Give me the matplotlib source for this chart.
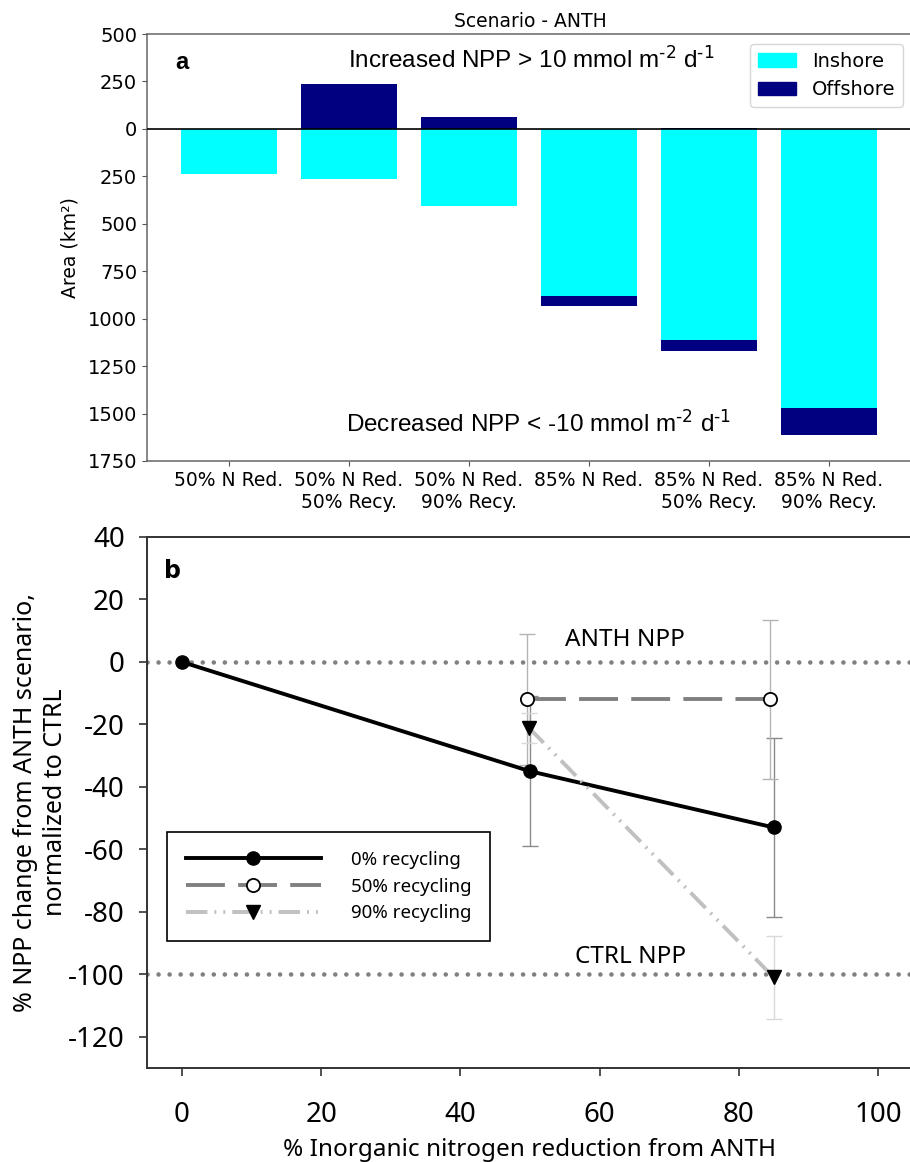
import numpy as np
import matplotlib
matplotlib.use("Agg")
import matplotlib.pyplot as plt
from matplotlib.patches import Patch
from matplotlib.ticker import FuncFormatter

plt.rcParams['axes.unicode_minus'] = False
plt.rcParams['mathtext.default'] = 'regular'

# panel a: area (km2) with NPP change beyond +/-10 mmol m-2 d-1
scenarios = ['50% N Red.', '50% N Red.\n50% Recy.', '50% N Red.\n90% Recy.',
             '85% N Red.', '85% N Red.\n50% Recy.', '85% N Red.\n90% Recy.']
offshore_inc = [0, 237, 63, 0, 5, 0]
inshore_dec = [240, 263, 405, 882, 1115, 1473]
offshore_dec = [0, 0, 0, 53, 55, 140]

# panel b: % NPP change vs N reduction
n_red = [0, 50, 85]
rec0 = [0, -35, -53]
rec0_err = [0, 24, 28.6]
n_red50 = [49.5, 84.4]
rec50 = [-12, -12]
rec50_err = [21, 25.4]
n_red90 = [49.8, 85]
rec90 = [-21, -101]
rec90_err = [4.8, 13.3]

INSHORE = '#00ffff'
OFFSHORE = '#000080'

fig = plt.figure(figsize=(9.1, 11.62), dpi=100)

# ---------------- panel a ----------------
ax1 = fig.add_axes([0.1615, 0.6033, 0.8418, 0.3674])
x = np.arange(len(scenarios))
neg_in = -np.array(inshore_dec)
ax1.bar(x, offshore_inc, width=0.8, color=OFFSHORE, zorder=2)
ax1.bar(x, neg_in, width=0.8, color=INSHORE, zorder=2)
ax1.bar(x, -np.array(offshore_dec), bottom=neg_in, width=0.8, color=OFFSHORE, zorder=2)
ax1.axhline(0, color='black', lw=1.2, zorder=3)

ax1.set_xlim(-0.683, 5.7)
ax1.set_ylim(-1750, 500)
ax1.set_yticks(np.arange(-1750, 501, 250))
ax1.yaxis.set_major_formatter(FuncFormatter(lambda v, p: '%d' % abs(v)))
ax1.set_xticks(x)
ax1.set_xticklabels(scenarios, fontsize=13.5)
ax1.tick_params(axis='y', labelsize=14)
ax1.tick_params(colors='#555555', labelcolor='black')
for s in ax1.spines.values():
    s.set_color('#666666')
    s.set_linewidth(1.1)
ax1.set_ylabel('Area (km²)', fontsize=13.5, labelpad=6)
ax1.set_title('Scenario - ANTH', fontsize=13.5, pad=5)

ax1.text(-0.45, 350, 'a', fontsize=17, fontweight='bold',
         family='Liberation Sans', va='center')
ax1.text(2.52, 365, r'Increased NPP > 10 mmol m$^{\text{-2}}$ d$^{\text{-1}}$',
         fontsize=17.5, family='Liberation Sans', ha='center', va='center')
ax1.text(2.58, -1550, r'Decreased NPP < -10 mmol m$^{\text{-2}}$ d$^{\text{-1}}$',
         fontsize=17.5, family='Liberation Sans', ha='center', va='center')

ax1.legend(handles=[Patch(color=INSHORE, label='Inshore'),
                    Patch(color=OFFSHORE, label='Offshore')],
           loc='upper right', fontsize=14)

# ---------------- panel b ----------------
FONT_B = 'Noto Sans'
ax2 = fig.add_axes([0.1615, 0.0809, 0.8418, 0.4570])
for ref in (0, -100):
    ax2.axhline(ref, color='#808080', lw=3.3, ls=(0, (0.01, 2.4)),
                dash_capstyle='round', zorder=1)

ax2.errorbar(n_red[1:], rec0[1:], yerr=rec0_err[1:], fmt='none', ecolor='#8a8a8a',
             elinewidth=1, capsize=6, capthick=1, zorder=2)
ax2.errorbar(n_red50, rec50, yerr=rec50_err, fmt='none', ecolor='#b4b4b4',
             elinewidth=1, capsize=6, capthick=1, zorder=2)
ax2.errorbar(n_red90, rec90, yerr=rec90_err, fmt='none', ecolor='#d9d9d9',
             elinewidth=1, capsize=6, capthick=1, zorder=2)

ax2.plot(n_red, rec0, color='black', lw=2.8, marker='o', ms=9.5,
         label='0% recycling', zorder=4)
ax2.plot(n_red50, rec50, color='#808080', lw=2.8, ls=(0, (10, 3.4)), marker='o', ms=9.5,
         mfc='white', mec='black', mew=1.3, label='50% recycling', zorder=4)
ax2.plot(n_red90, rec90, color='#c0c0c0', lw=2.8, ls=(0, (5.5, 1.8, 0.5, 1.8, 0.5, 1.8)),
         marker='v', ms=9.5, mfc='black', mec='black', label='90% recycling', zorder=4)

ax2.set_xlim(-5, 105)
ax2.set_ylim(-130, 40)
ax2.set_xticks(np.arange(0, 101, 20))
ax2.set_yticks(np.arange(-120, 41, 20))
ax2.tick_params(length=6, width=1.2, color='#333333')
ax2.tick_params(axis='x', pad=18)
ax2.tick_params(axis='y', pad=10)
for lab in ax2.get_xticklabels() + ax2.get_yticklabels():
    lab.set_fontsize(20)
    lab.set_family(FONT_B)
for s in ax2.spines.values():
    s.set_color('#333333')
    s.set_linewidth(1.4)

ax2.set_xlabel('% Inorganic nitrogen reduction from ANTH', fontsize=17.5,
               family=FONT_B, labelpad=6)
ax2.set_ylabel('% NPP change from ANTH scenario,\nnormalized to CTRL', fontsize=18,
               family=FONT_B, labelpad=0, linespacing=1.25)

ax2.text(-2.5, 29, 'b', fontsize=17, fontweight='bold', family='DejaVu Sans', va='center')
ax2.text(55, 7, 'ANTH NPP', fontsize=17.5, family=FONT_B, va='center')
ax2.text(56.5, -94.5, 'CTRL NPP', fontsize=17.5, family=FONT_B, va='center')

leg = ax2.legend(loc='upper left', bbox_to_anchor=(0.026, 0.444), borderaxespad=0,
                 prop={'family': FONT_B, 'size': 13.5}, handlelength=7.2,
                 handletextpad=1.6, labelspacing=0.46, numpoints=1,
                 fancybox=False, framealpha=1, edgecolor='black',
                 borderpad=1.0)
leg.get_frame().set_linewidth(1.2)

fig.savefig('out.png', dpi=100)
